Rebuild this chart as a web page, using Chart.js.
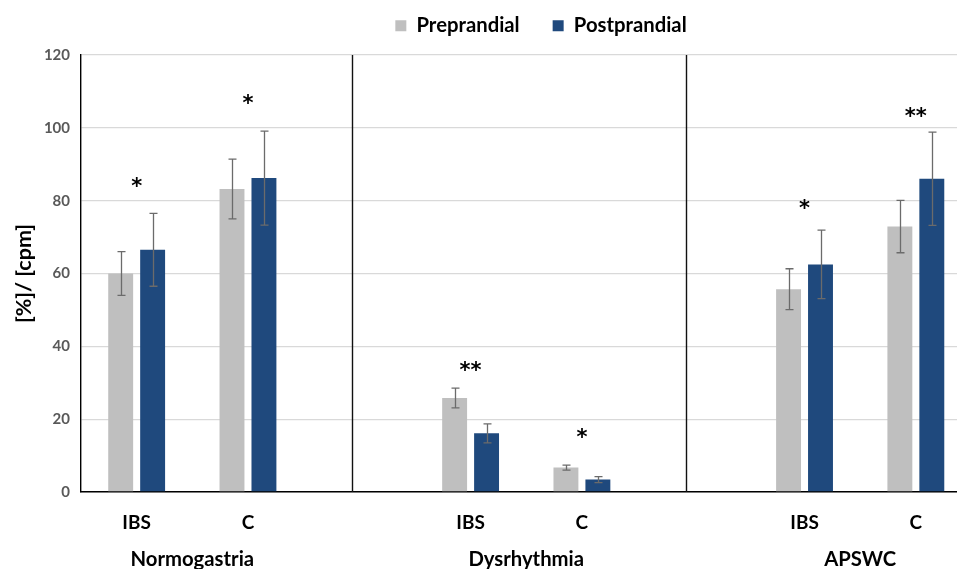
<!DOCTYPE html>
<html><head><meta charset="utf-8">
<script src="https://cdn.jsdelivr.net/npm/chart.js@4/dist/chart.umd.min.js"></script>
<style>
html,body{margin:0;padding:0;background:#fff;overflow:hidden;width:957px;height:569px;}
#wrap{position:relative;width:1082px;height:569px;}
canvas{display:block;}
</style></head><body>
<div id="wrap"><canvas id="c" width="1082" height="569"></canvas></div>
<script>
// ---- data ----
const groups = ["Normogastria", "Dysrhythmia", "APSWC"];
const subCategories = ["IBS", "C"];
const seriesNames = ["Preprandial", "Postprandial"];
const preprandial = [60.0, 83.2, 25.8, 6.7, 55.7, 72.9];
const preprandialErr = [6.0, 8.2, 2.7, 0.7, 5.6, 7.2];
const postprandial = [66.5, 86.2, 16.1, 3.4, 62.5, 86.0];
const postprandialErr = [10.0, 12.9, 2.6, 0.8, 9.4, 12.8];
const significance = ["*", "*", "**", "*", "*", "**"];
const significanceY = [85, 108, 34.6, 16.2, 79, 104.4];
const yTicks = [0, 20, 40, 60, 80, 100, 120];
const yTitle = "[%]/ [cpm]";

// ---- build slots (empty slot between groups) ----
const slotLabels = [], slotOf = [], groupSlots = [], gapSlots = [];
groups.forEach((g, gi) => {
  const first = slotLabels.length;
  subCategories.forEach(s => { slotOf.push(slotLabels.length); slotLabels.push(s); });
  groupSlots.push([first, slotLabels.length - 1]);
  if (gi < groups.length - 1) { gapSlots.push(slotLabels.length); slotLabels.push(""); }
});
const toSlots = arr => { const out = new Array(slotLabels.length).fill(null); arr.forEach((v, i) => out[slotOf[i]] = v); return out; };

const FONT = "Lato";

const legendTweak = {
  id: 'legendTweak',
  beforeUpdate(chart) {
    const lg = chart.legend;
    if (!lg || lg.__tw) return;
    lg.__tw = true;
    const fit = lg.fit, draw = lg.draw;
    lg.fit = function () { fit.call(this); this.height = 55; };
    lg.draw = function () { const c = this.ctx; c.save(); c.translate(0, -17.5); draw.call(this); c.restore(); };
  }
};

const annotations = {
  id: 'annotations',
  afterDatasetsDraw(chart) {
    const { ctx, chartArea: a, scales: { x, y } } = chart;
    ctx.save();
    chart.data.datasets.forEach((ds, di) => {
      const meta = chart.getDatasetMeta(di);
      ds.errors.forEach((e, k) => {
        const slot = slotOf[k]; const v = ds.data[slot]; const bar = meta.data[slot];
        const yt = y.getPixelForValue(v + e), yb = y.getPixelForValue(v - e);
        const bx = Math.round(bar.x) + 0.5;
        ctx.strokeStyle = '#6b6b6b'; ctx.lineWidth = 1.3;
        ctx.beginPath();
        ctx.moveTo(bx, yt); ctx.lineTo(bx, yb);
        ctx.moveTo(bx - 4, yt); ctx.lineTo(bx + 4, yt);
        ctx.moveTo(bx - 4, yb); ctx.lineTo(bx + 4, yb);
        ctx.stroke();
      });
    });
    const slotW = x.getPixelForValue(1) - x.getPixelForValue(0);
    ctx.strokeStyle = '#111'; ctx.lineWidth = 1.4;
    gapSlots.forEach(s => {
      const px = Math.round(x.getPixelForValue(s) - 0.063 * slotW) + 0.5;
      ctx.beginPath(); ctx.moveTo(px, a.top); ctx.lineTo(px, a.bottom); ctx.stroke();
    });
    ctx.fillStyle = '#000'; ctx.font = 'bold 21px "DejaVu Sans"'; ctx.textAlign = 'center'; ctx.textBaseline = 'alphabetic';
    significance.forEach((t, k) => {
      const m = ctx.measureText(t);
      const px = x.getPixelForValue(slotOf[k]);
      const py = y.getPixelForValue(significanceY[k]);
      ctx.fillText(t, px, py + (m.actualBoundingBoxAscent - m.actualBoundingBoxDescent) / 2);
    });
    ctx.font = 'bold 20.3px ' + FONT; ctx.textBaseline = 'middle';
    groups.forEach((g, gi) => {
      const [f, l] = groupSlots[gi];
      const px = (x.getPixelForValue(f) + x.getPixelForValue(l)) / 2;
      ctx.fillText(g, px, a.bottom + 67);
    });
    ctx.restore();
  }
};

new Chart(document.getElementById('c'), {
  type: 'bar',
  data: {
    labels: slotLabels,
    datasets: [
      { label: seriesNames[0], data: toSlots(preprandial), backgroundColor: '#bfbfbf', errors: preprandialErr },
      { label: seriesNames[1], data: toSlots(postprandial), backgroundColor: '#1f497d', errors: postprandialErr }
    ]
  },
  options: {
    responsive: false, animation: false, devicePixelRatio: 1,
    datasets: { bar: { categoryPercentage: 0.574, barPercentage: 0.78 } },
    layout: { padding: 0 },
    plugins: {
      legend: {
        position: 'top',
        labels: { boxWidth: 11, boxHeight: 11, padding: 33, color: '#000', font: { family: FONT, weight: 'bold', size: 20.3 } }
      },
      tooltip: { enabled: false }
    },
    scales: {
      x: {
        grid: { display: false, drawTicks: false },
        border: { color: '#000', width: 1.6 },
        ticks: { color: '#000', padding: 19, maxRotation: 0, autoSkip: false, font: { family: FONT, weight: 'bold', size: 19 } },
        afterFit(s) { s.height = 77; }
      },
      y: {
        min: 0, max: 120,
        afterBuildTicks(s) { s.ticks = yTicks.map(v => ({ value: v })); },
        grid: { color: '#d9d9d9', lineWidth: 1.3, drawTicks: false },
        border: { color: '#000', width: 1.4 },
        ticks: { color: '#595959', padding: 11, font: { family: FONT, weight: 'bold', size: 15 } },
        title: { display: true, text: yTitle, color: '#000', padding: { top: 11, bottom: 0 }, font: { family: FONT, weight: 'bold', size: 21.5 } },
        afterFit(s) { s.width = 81; }
      },
      yR: {
        position: 'right', min: 0, max: 1,
        grid: { display: false, drawTicks: false }, border: { display: false }, ticks: { display: false },
        afterFit(s) { s.width = 110.5; }
      }
    }
  },
  plugins: [legendTweak, annotations]
});
</script>
</body></html>
